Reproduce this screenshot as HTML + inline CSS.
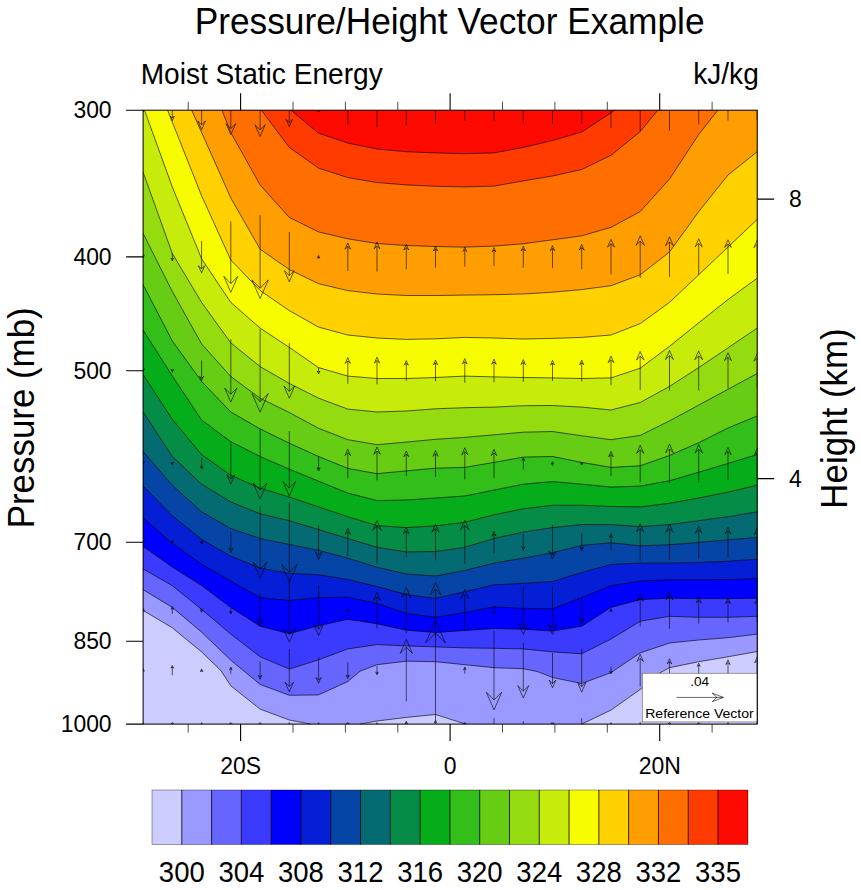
<!DOCTYPE html>
<html><head><meta charset="utf-8"><title>Pressure/Height Vector Example</title>
<style>html,body{margin:0;padding:0;background:#fff}svg{display:block}</style></head>
<body>
<svg width="861" height="890" viewBox="0 0 861 890" font-family='"Liberation Sans", Arial, Helvetica, sans-serif' fill="#000">
<rect width="861" height="890" fill="#fff"/>
<g id="contours" shape-rendering="geometricPrecision">
<rect x="143.1" y="110.2" width="614.1" height="613.9" fill="#FF0A00"/>
<path d="M290.9 110.2L318.6 133.2L347.8 143.0L377.0 149.0L406.3 151.7L435.5 152.9L464.8 153.7L494.0 152.9L523.3 147.4L552.5 140.5L581.7 132.0L611.0 112.8L614.7 110.2L757.2 110.2L757.2 724.1L143.1 724.1L143.1 110.2Z" fill="#FF3B00"/>
<path d="M261.4 110.2L289.3 147.4L318.6 168.1L347.8 177.6L377.0 182.5L406.3 184.9L435.5 186.3L464.8 186.9L494.0 186.1L523.3 180.9L552.5 176.0L581.7 169.5L611.0 155.3L640.2 131.6L657.8 110.2L757.2 110.2L757.2 724.1L143.1 724.1L143.1 110.2Z" fill="#FF6E00"/>
<path d="M221.9 110.2L230.8 132.6L260.1 184.9L289.3 217.4L318.6 231.9L347.8 238.8L377.0 243.5L406.3 245.5L435.5 246.5L464.8 247.1L494.0 246.1L523.3 243.7L552.5 239.8L581.7 235.8L611.0 227.3L640.2 211.6L669.5 179.0L698.7 134.5L717.8 110.2L757.2 110.2L757.2 724.1L143.1 724.1L143.1 110.2Z" fill="#FF9E00"/>
<path d="M191.7 110.2L201.6 132.4L230.8 198.0L260.1 249.2L289.3 269.5L318.6 283.7L347.8 290.6L377.0 294.0L406.3 295.5L435.5 295.5L464.8 295.1L494.0 294.7L523.3 294.0L552.5 292.2L581.7 289.6L611.0 285.7L640.2 274.8L669.5 252.0L698.7 211.6L728.0 175.0L757.2 151.7L757.2 724.1L143.1 724.1L143.1 110.2Z" fill="#FFD100"/>
<path d="M167.6 110.2L172.3 122.1L201.6 195.8L230.8 260.0L260.1 290.5L289.3 310.6L318.6 327.1L347.8 335.0L377.0 338.0L406.3 339.4L435.5 338.8L464.8 337.4L494.0 338.0L523.3 339.0L552.5 338.4L581.7 337.4L611.0 335.0L640.2 323.6L669.5 302.4L698.7 274.8L728.0 247.1L757.2 219.4L757.2 724.1L143.1 724.1L143.1 110.2Z" fill="#F8FC00"/>
<path d="M144.5 110.2L172.3 186.9L201.6 258.8L230.8 302.4L260.1 328.1L289.3 347.4L318.6 367.6L347.8 376.1L377.0 378.5L406.3 378.5L435.5 377.5L464.8 376.1L494.0 376.9L523.3 377.5L552.5 377.9L581.7 378.5L611.0 377.9L640.2 368.2L669.5 346.3L698.7 322.8L728.0 299.5L757.2 278.2L757.2 724.1L143.1 724.1L143.1 110.2Z" fill="#C7EB0A"/>
<path d="M143.1 172.1L172.3 253.5L201.6 302.4L230.8 342.9L260.1 366.6L289.3 383.4L318.6 398.2L347.8 409.1L377.0 412.0L406.3 411.0L435.5 408.8L464.8 407.7L494.0 407.1L523.3 405.7L552.5 405.5L581.7 407.1L611.0 410.0L640.2 402.5L669.5 386.4L698.7 367.6L728.0 347.9L757.2 328.1L757.2 724.1L143.1 724.1Z" fill="#94DB0F"/>
<path d="M143.1 233.3L172.3 291.5L201.6 343.9L230.8 376.5L260.1 398.2L289.3 412.5L318.6 428.3L347.8 439.7L377.0 444.7L406.3 442.1L435.5 439.3L464.8 437.4L494.0 434.8L523.3 432.2L552.5 431.5L581.7 435.8L611.0 439.7L640.2 435.4L669.5 420.9L698.7 405.1L728.0 389.3L757.2 373.5L757.2 724.1L143.1 724.1Z" fill="#66CC14"/>
<path d="M143.1 284.7L172.3 341.0L201.6 381.4L230.8 412.0L260.1 428.9L289.3 443.2L318.6 456.5L347.8 468.4L377.0 473.7L406.3 470.9L435.5 468.2L464.8 467.4L494.0 462.4L523.3 457.1L552.5 456.5L581.7 462.4L611.0 467.4L640.2 465.8L669.5 455.5L698.7 442.7L728.0 428.0L757.2 416.0L757.2 724.1L143.1 724.1Z" fill="#33BF1A"/>
<path d="M143.1 330.1L172.3 376.0L201.6 420.0L230.8 441.7L260.1 456.5L289.3 469.2L318.6 481.2L347.8 493.1L377.0 500.6L406.3 500.0L435.5 498.0L464.8 496.0L494.0 490.1L523.3 484.2L552.5 481.6L581.7 484.2L611.0 487.1L640.2 486.1L669.5 480.8L698.7 472.3L728.0 463.4L757.2 454.6L757.2 724.1L143.1 724.1Z" fill="#05AD1A"/>
<path d="M143.1 374.5L172.3 419.3L201.6 454.6L230.8 475.3L260.1 488.1L289.3 497.0L318.6 506.9L347.8 516.7L377.0 525.6L406.3 527.6L435.5 525.9L464.8 522.3L494.0 514.8L523.3 508.8L552.5 505.3L581.7 505.3L611.0 506.5L640.2 506.9L669.5 503.3L698.7 498.0L728.0 492.1L757.2 485.2L757.2 724.1L143.1 724.1Z" fill="#058C47"/>
<path d="M143.1 412.0L172.3 456.5L201.6 484.2L230.8 501.9L260.1 513.8L289.3 520.7L318.6 529.6L347.8 538.5L377.0 547.3L406.3 551.9L435.5 551.6L464.8 547.3L494.0 538.5L523.3 532.1L552.5 527.6L581.7 524.6L611.0 524.6L640.2 526.6L669.5 524.6L698.7 520.7L728.0 516.7L757.2 511.8L757.2 724.1L143.1 724.1Z" fill="#056B73"/>
<path d="M143.1 451.6L172.3 485.2L201.6 511.8L230.8 528.6L260.1 538.5L289.3 544.4L318.6 550.3L347.8 558.2L377.0 567.2L406.3 574.0L435.5 576.0L464.8 570.4L494.0 563.1L523.3 558.2L552.5 552.7L581.7 545.4L611.0 542.8L640.2 545.8L669.5 544.8L698.7 542.4L728.0 539.8L757.2 537.5L757.2 724.1L143.1 724.1Z" fill="#0545A6"/>
<path d="M143.1 486.1L172.3 515.8L201.6 539.4L230.8 556.2L260.1 568.0L289.3 573.4L318.6 574.7L347.8 579.5L377.0 586.5L406.3 594.6L435.5 598.4L464.8 591.7L494.0 584.8L523.3 583.4L552.5 581.5L581.7 572.5L611.0 564.5L640.2 563.1L669.5 563.1L698.7 562.5L728.0 561.2L757.2 559.2L757.2 724.1L143.1 724.1Z" fill="#051FD6"/>
<path d="M143.1 517.7L172.3 543.4L201.6 564.1L230.8 581.0L260.1 597.6L289.3 600.5L318.6 597.6L347.8 597.2L377.0 603.5L406.3 613.4L435.5 617.3L464.8 612.4L494.0 606.9L523.3 608.4L552.5 608.8L581.7 597.6L611.0 585.7L640.2 581.0L669.5 579.8L698.7 579.8L728.0 579.6L757.2 578.6L757.2 724.1L143.1 724.1Z" fill="#0000FF"/>
<path d="M143.1 546.4L172.3 567.1L201.6 585.5L230.8 607.4L260.1 626.2L289.3 633.7L318.6 625.8L347.8 619.3L377.0 623.8L406.3 630.2L435.5 632.5L464.8 630.5L494.0 628.6L523.3 629.2L552.5 631.1L581.7 626.2L611.0 607.4L640.2 599.6L669.5 598.2L698.7 598.6L728.0 598.6L757.2 598.2L757.2 724.1L143.1 724.1Z" fill="#3B3BFF"/>
<path d="M143.1 569.0L172.3 585.7L201.6 609.4L230.8 634.1L260.1 656.8L289.3 669.1L318.6 659.8L347.8 648.9L377.0 644.6L406.3 645.9L435.5 646.9L464.8 647.9L494.0 648.3L523.3 648.9L552.5 651.9L581.7 653.8L611.0 639.0L640.2 621.3L669.5 616.3L698.7 617.3L728.0 617.3L757.2 616.3L757.2 724.1L143.1 724.1Z" fill="#6666FF"/>
<path d="M143.1 589.7L172.3 607.4L201.6 632.1L230.8 660.2L260.1 684.4L289.3 695.3L318.6 694.9L347.8 681.5L360.0 671.2L377.0 664.7L406.3 661.2L435.5 661.7L464.8 664.7L494.0 667.7L523.3 668.7L537.6 671.6L552.5 677.5L581.7 683.5L611.0 672.6L640.2 652.9L669.5 643.0L698.7 640.0L728.0 637.7L757.2 634.1L757.2 724.1L143.1 724.1Z" fill="#9999FF"/>
<path d="M143.1 610.4L172.3 627.8L201.6 651.9L220.9 670.6L230.8 685.8L260.1 709.1L289.3 720.0L310.6 724.1L143.1 724.1Z" fill="#CCCCFF"/>
<path d="M360.0 724.1L377.0 721.0L406.3 717.4L435.5 714.5L465.5 724.1Z" fill="#CCCCFF"/>
<path d="M581.7 724.1L611.0 710.1L640.2 689.4L660.0 672.8L669.5 667.7L698.7 661.7L728.0 656.8L757.2 651.5L757.2 724.1Z" fill="#CCCCFF"/>
<path d="M290.9 110.2L318.6 133.2L347.8 143.0L377.0 149.0L406.3 151.7L435.5 152.9L464.8 153.7L494.0 152.9L523.3 147.4L552.5 140.5L581.7 132.0L611.0 112.8L614.7 110.2M261.4 110.2L289.3 147.4L318.6 168.1L347.8 177.6L377.0 182.5L406.3 184.9L435.5 186.3L464.8 186.9L494.0 186.1L523.3 180.9L552.5 176.0L581.7 169.5L611.0 155.3L640.2 131.6L657.8 110.2M221.9 110.2L230.8 132.6L260.1 184.9L289.3 217.4L318.6 231.9L347.8 238.8L377.0 243.5L406.3 245.5L435.5 246.5L464.8 247.1L494.0 246.1L523.3 243.7L552.5 239.8L581.7 235.8L611.0 227.3L640.2 211.6L669.5 179.0L698.7 134.5L717.8 110.2M191.7 110.2L201.6 132.4L230.8 198.0L260.1 249.2L289.3 269.5L318.6 283.7L347.8 290.6L377.0 294.0L406.3 295.5L435.5 295.5L464.8 295.1L494.0 294.7L523.3 294.0L552.5 292.2L581.7 289.6L611.0 285.7L640.2 274.8L669.5 252.0L698.7 211.6L728.0 175.0L757.2 151.7M167.6 110.2L172.3 122.1L201.6 195.8L230.8 260.0L260.1 290.5L289.3 310.6L318.6 327.1L347.8 335.0L377.0 338.0L406.3 339.4L435.5 338.8L464.8 337.4L494.0 338.0L523.3 339.0L552.5 338.4L581.7 337.4L611.0 335.0L640.2 323.6L669.5 302.4L698.7 274.8L728.0 247.1L757.2 219.4M144.5 110.2L172.3 186.9L201.6 258.8L230.8 302.4L260.1 328.1L289.3 347.4L318.6 367.6L347.8 376.1L377.0 378.5L406.3 378.5L435.5 377.5L464.8 376.1L494.0 376.9L523.3 377.5L552.5 377.9L581.7 378.5L611.0 377.9L640.2 368.2L669.5 346.3L698.7 322.8L728.0 299.5L757.2 278.2M143.1 172.1L172.3 253.5L201.6 302.4L230.8 342.9L260.1 366.6L289.3 383.4L318.6 398.2L347.8 409.1L377.0 412.0L406.3 411.0L435.5 408.8L464.8 407.7L494.0 407.1L523.3 405.7L552.5 405.5L581.7 407.1L611.0 410.0L640.2 402.5L669.5 386.4L698.7 367.6L728.0 347.9L757.2 328.1M143.1 233.3L172.3 291.5L201.6 343.9L230.8 376.5L260.1 398.2L289.3 412.5L318.6 428.3L347.8 439.7L377.0 444.7L406.3 442.1L435.5 439.3L464.8 437.4L494.0 434.8L523.3 432.2L552.5 431.5L581.7 435.8L611.0 439.7L640.2 435.4L669.5 420.9L698.7 405.1L728.0 389.3L757.2 373.5M143.1 284.7L172.3 341.0L201.6 381.4L230.8 412.0L260.1 428.9L289.3 443.2L318.6 456.5L347.8 468.4L377.0 473.7L406.3 470.9L435.5 468.2L464.8 467.4L494.0 462.4L523.3 457.1L552.5 456.5L581.7 462.4L611.0 467.4L640.2 465.8L669.5 455.5L698.7 442.7L728.0 428.0L757.2 416.0M143.1 330.1L172.3 376.0L201.6 420.0L230.8 441.7L260.1 456.5L289.3 469.2L318.6 481.2L347.8 493.1L377.0 500.6L406.3 500.0L435.5 498.0L464.8 496.0L494.0 490.1L523.3 484.2L552.5 481.6L581.7 484.2L611.0 487.1L640.2 486.1L669.5 480.8L698.7 472.3L728.0 463.4L757.2 454.6M143.1 374.5L172.3 419.3L201.6 454.6L230.8 475.3L260.1 488.1L289.3 497.0L318.6 506.9L347.8 516.7L377.0 525.6L406.3 527.6L435.5 525.9L464.8 522.3L494.0 514.8L523.3 508.8L552.5 505.3L581.7 505.3L611.0 506.5L640.2 506.9L669.5 503.3L698.7 498.0L728.0 492.1L757.2 485.2M143.1 412.0L172.3 456.5L201.6 484.2L230.8 501.9L260.1 513.8L289.3 520.7L318.6 529.6L347.8 538.5L377.0 547.3L406.3 551.9L435.5 551.6L464.8 547.3L494.0 538.5L523.3 532.1L552.5 527.6L581.7 524.6L611.0 524.6L640.2 526.6L669.5 524.6L698.7 520.7L728.0 516.7L757.2 511.8M143.1 451.6L172.3 485.2L201.6 511.8L230.8 528.6L260.1 538.5L289.3 544.4L318.6 550.3L347.8 558.2L377.0 567.2L406.3 574.0L435.5 576.0L464.8 570.4L494.0 563.1L523.3 558.2L552.5 552.7L581.7 545.4L611.0 542.8L640.2 545.8L669.5 544.8L698.7 542.4L728.0 539.8L757.2 537.5M143.1 486.1L172.3 515.8L201.6 539.4L230.8 556.2L260.1 568.0L289.3 573.4L318.6 574.7L347.8 579.5L377.0 586.5L406.3 594.6L435.5 598.4L464.8 591.7L494.0 584.8L523.3 583.4L552.5 581.5L581.7 572.5L611.0 564.5L640.2 563.1L669.5 563.1L698.7 562.5L728.0 561.2L757.2 559.2M143.1 517.7L172.3 543.4L201.6 564.1L230.8 581.0L260.1 597.6L289.3 600.5L318.6 597.6L347.8 597.2L377.0 603.5L406.3 613.4L435.5 617.3L464.8 612.4L494.0 606.9L523.3 608.4L552.5 608.8L581.7 597.6L611.0 585.7L640.2 581.0L669.5 579.8L698.7 579.8L728.0 579.6L757.2 578.6M143.1 546.4L172.3 567.1L201.6 585.5L230.8 607.4L260.1 626.2L289.3 633.7L318.6 625.8L347.8 619.3L377.0 623.8L406.3 630.2L435.5 632.5L464.8 630.5L494.0 628.6L523.3 629.2L552.5 631.1L581.7 626.2L611.0 607.4L640.2 599.6L669.5 598.2L698.7 598.6L728.0 598.6L757.2 598.2M143.1 569.0L172.3 585.7L201.6 609.4L230.8 634.1L260.1 656.8L289.3 669.1L318.6 659.8L347.8 648.9L377.0 644.6L406.3 645.9L435.5 646.9L464.8 647.9L494.0 648.3L523.3 648.9L552.5 651.9L581.7 653.8L611.0 639.0L640.2 621.3L669.5 616.3L698.7 617.3L728.0 617.3L757.2 616.3M143.1 589.7L172.3 607.4L201.6 632.1L230.8 660.2L260.1 684.4L289.3 695.3L318.6 694.9L347.8 681.5L360.0 671.2L377.0 664.7L406.3 661.2L435.5 661.7L464.8 664.7L494.0 667.7L523.3 668.7L537.6 671.6L552.5 677.5L581.7 683.5L611.0 672.6L640.2 652.9L669.5 643.0L698.7 640.0L728.0 637.7L757.2 634.1M143.1 610.4L172.3 627.8L201.6 651.9L220.9 670.6L230.8 685.8L260.1 709.1L289.3 720.0L310.6 724.1M360.0 724.1L377.0 721.0L406.3 717.4L435.5 714.5L465.5 724.1M581.7 724.1L611.0 710.1L640.2 689.4L660.0 672.8L669.5 667.7L698.7 661.7L728.0 656.8L757.2 651.5" fill="none" stroke="#000" stroke-width="0.62" stroke-linejoin="round"/>
</g>
<defs><clipPath id="pc"><rect x="143.1" y="110.2" width="614.1" height="613.9"/></clipPath></defs><path clip-path="url(#pc)" d="M143.1 108.2V110.6M143.1 110.6L141.8 109.4L143.1 112.2L144.4 109.4ZM172.3 99.7V118.1M172.3 118.1L170.3 116.0L172.3 120.7L174.4 116.0ZM201.6 90.7V124.8M201.6 124.8L197.8 120.9L201.6 129.7L205.4 120.9ZM230.8 85.7V128.5M230.8 128.5L226.0 123.7L230.8 134.7L235.6 123.7ZM260.1 83.9V129.9M260.1 129.9L254.9 124.7L260.1 136.5L265.2 124.7ZM289.3 93.7V122.5M289.3 122.5L286.1 119.3L289.3 126.7L292.5 119.3ZM318.6 111.7V110.3M318.6 110.3L317.3 111.5L318.6 108.7L319.9 111.5ZM347.8 124.7V99.4M347.8 99.4L345.0 102.2L347.8 95.7L350.6 102.2ZM377.0 127.2V97.5M377.0 97.5L373.7 100.9L377.0 93.2L380.4 100.9ZM406.3 125.7V98.6M406.3 98.6L403.2 101.7L406.3 94.7L409.3 101.7ZM435.5 123.7V100.1M435.5 100.1L432.9 102.8L435.5 96.7L438.2 102.8ZM464.8 120.7V102.3M464.8 102.3L462.7 104.4L464.8 99.7L466.8 104.4ZM494.0 120.7V102.3M494.0 102.3L492.0 104.4L494.0 99.7L496.1 104.4ZM523.3 122.7V100.9M523.3 100.9L520.8 103.3L523.3 97.7L525.7 103.3ZM552.5 124.2V99.7M552.5 99.7L549.8 102.5L552.5 96.2L555.2 102.5ZM581.7 124.2V99.7M581.7 99.7L579.0 102.5L581.7 96.2L584.5 102.5ZM611.0 127.7V97.1M611.0 97.1L607.6 100.6L611.0 92.7L614.4 100.6ZM640.2 131.7V94.1M640.2 94.1L636.0 98.4L640.2 88.7L644.4 98.4ZM669.5 130.7V94.9M669.5 94.9L665.5 98.9L669.5 89.7L673.5 98.9ZM698.7 124.2V99.7M698.7 99.7L696.0 102.5L698.7 96.2L701.5 102.5ZM728.0 120.7V102.3M728.0 102.3L725.9 104.4L728.0 99.7L730.0 104.4ZM757.2 120.2V102.7M757.2 102.7L755.2 104.7L757.2 100.2L759.2 104.7ZM143.1 255.9V256.3M143.1 256.3L141.8 255.1L143.1 257.9L144.4 255.1ZM172.3 252.9V259.3M172.3 259.3L171.0 258.1L172.3 260.9L173.6 258.1ZM201.6 240.9V268.9M201.6 268.9L198.4 265.7L201.6 272.9L204.7 265.7ZM230.8 221.4V283.5M230.8 283.5L223.9 276.4L230.8 292.4L237.8 276.4ZM260.1 215.1V288.1M260.1 288.1L251.9 279.9L260.1 298.6L268.3 279.9ZM289.3 231.9V275.6M289.3 275.6L284.4 270.6L289.3 281.9L294.2 270.6ZM318.6 258.4V257.0M318.6 257.0L317.3 258.2L318.6 255.4L319.9 258.2ZM347.8 270.9V246.4M347.8 246.4L345.1 249.2L347.8 242.9L350.5 249.2ZM377.0 271.6V245.9M377.0 245.9L374.2 248.8L377.0 242.1L379.9 248.8ZM406.3 269.4V247.5M406.3 247.5L403.8 250.0L406.3 244.4L408.7 250.0ZM435.5 267.7V248.8M435.5 248.8L433.4 251.0L435.5 246.1L437.6 251.0ZM464.8 266.7V249.6M464.8 249.6L462.9 251.5L464.8 247.1L466.7 251.5ZM494.0 266.1V250.0M494.0 250.0L492.2 251.8L494.0 247.7L495.8 251.8ZM523.3 267.7V248.8M523.3 248.8L521.1 251.0L523.3 246.1L525.4 251.0ZM552.5 268.1V248.5M552.5 248.5L550.3 250.7L552.5 245.7L554.7 250.7ZM581.7 269.3V247.6M581.7 247.6L579.3 250.1L581.7 244.5L584.2 250.1ZM611.0 274.6V243.7M611.0 243.7L607.5 247.2L611.0 239.2L614.5 247.2ZM640.2 278.0V241.1M640.2 241.1L636.1 245.3L640.2 235.8L644.4 245.3ZM669.5 277.0V241.9M669.5 241.9L665.5 245.8L669.5 236.8L673.4 245.8ZM698.7 275.0V243.4M698.7 243.4L695.2 246.9L698.7 238.8L702.3 246.9ZM728.0 274.0V244.1M728.0 244.1L724.6 247.5L728.0 239.8L731.3 247.5ZM757.2 273.6V244.4M757.2 244.4L753.9 247.7L757.2 240.2L760.5 247.7ZM143.1 369.7V370.1M143.1 370.1L141.8 368.9L143.1 371.7L144.4 368.9ZM172.3 369.2V370.6M172.3 370.6L171.0 369.4L172.3 372.2L173.6 369.4ZM201.6 360.4V378.4M201.6 378.4L199.6 376.3L201.6 380.9L203.6 376.3ZM230.8 339.3V394.2M230.8 394.2L224.7 388.0L230.8 402.1L237.0 388.0ZM260.1 329.2V401.7M260.1 401.7L251.9 393.5L260.1 412.2L268.2 393.5ZM289.3 343.1V391.4M289.3 391.4L283.9 385.9L289.3 398.3L294.7 385.9ZM318.6 367.4V372.4M318.6 372.4L317.3 371.1L318.6 373.9L319.9 371.1ZM347.8 383.8V360.9M347.8 360.9L345.2 363.5L347.8 357.6L350.4 363.5ZM377.0 384.3V360.5M377.0 360.5L374.4 363.2L377.0 357.1L379.7 363.2ZM406.3 380.8V363.2M406.3 363.2L404.3 365.2L406.3 360.6L408.3 365.2ZM435.5 381.2V362.8M435.5 362.8L433.5 364.9L435.5 360.1L437.6 364.9ZM464.8 382.8V361.7M464.8 361.7L462.4 364.1L464.8 358.6L467.1 364.1ZM494.0 382.3V362.0M494.0 362.0L491.7 364.3L494.0 359.1L496.3 364.3ZM523.3 381.8V362.4M523.3 362.4L521.1 364.6L523.3 359.6L525.4 364.6ZM552.5 380.9V363.0M552.5 363.0L550.5 365.1L552.5 360.4L554.5 365.1ZM581.7 381.3V362.7M581.7 362.7L579.7 364.8L581.7 360.1L583.8 364.8ZM611.0 385.3V359.8M611.0 359.8L608.1 362.7L611.0 356.1L613.8 362.7ZM640.2 389.9V356.3M640.2 356.3L636.5 360.1L640.2 351.4L644.0 360.1ZM669.5 390.9V355.6M669.5 355.6L665.5 359.6L669.5 350.4L673.4 359.6ZM698.7 390.4V355.9M698.7 355.9L694.8 359.8L698.7 350.9L702.6 359.8ZM728.0 388.6V357.3M728.0 357.3L724.4 360.8L728.0 352.8L731.5 360.8ZM757.2 387.7V358.0M757.2 358.0L753.9 361.3L757.2 353.7L760.5 361.3ZM143.1 462.6V463.0M143.1 463.0L141.8 461.8L143.1 464.6L144.4 461.8ZM172.3 462.1V463.5M172.3 463.5L171.0 462.3L172.3 465.1L173.6 462.3ZM201.6 458.2V467.5M201.6 467.5L200.3 466.2L201.6 469.1L202.9 466.2ZM230.8 443.2V478.9M230.8 478.9L226.8 474.8L230.8 484.1L234.8 474.8ZM260.1 428.2V490.0M260.1 490.0L253.1 483.0L260.1 499.0L267.0 483.0ZM289.3 431.1V487.9M289.3 487.9L282.9 481.5L289.3 496.1L295.7 481.5ZM318.6 456.2V469.1M318.6 469.1L317.1 467.7L318.6 471.0L320.0 467.7ZM347.8 478.1V452.8M347.8 452.8L345.0 455.6L347.8 449.1L350.6 455.6ZM377.0 480.4V451.1M377.0 451.1L373.8 454.4L377.0 446.9L380.3 454.4ZM406.3 476.2V454.2M406.3 454.2L403.8 456.7L406.3 451.1L408.7 456.7ZM435.5 476.8V453.8M435.5 453.8L433.0 456.4L435.5 450.5L438.1 456.4ZM464.8 479.4V451.8M464.8 451.8L461.7 454.9L464.8 447.8L467.9 454.9ZM494.0 477.9V452.9M494.0 452.9L491.2 455.7L494.0 449.3L496.8 455.7ZM523.3 469.6V459.2M523.3 459.2L522.0 460.5L523.3 457.7L524.6 460.5ZM552.5 461.6V464.0M552.5 464.0L551.2 462.8L552.5 465.6L553.8 462.8ZM581.7 462.1V463.5M581.7 463.5L580.4 462.3L581.7 465.1L583.0 462.3ZM611.0 475.8V454.5M611.0 454.5L608.6 456.9L611.0 451.5L613.4 456.9ZM640.2 482.1V449.8M640.2 449.8L636.6 453.5L640.2 445.2L643.8 453.5ZM669.5 483.2V449.0M669.5 449.0L665.6 452.8L669.5 444.1L673.3 452.8ZM698.7 482.7V449.4M698.7 449.4L695.0 453.1L698.7 444.6L702.5 453.1ZM728.0 479.7V451.6M728.0 451.6L724.8 454.7L728.0 447.5L731.1 454.7ZM757.2 478.6V452.4M757.2 452.4L754.3 455.4L757.2 448.6L760.1 455.4ZM143.1 541.2V541.6M143.1 541.6L141.8 540.4L143.1 543.2L144.4 540.4ZM172.3 540.7V542.1M172.3 542.1L171.0 540.9L172.3 543.7L173.6 540.9ZM201.6 540.2V542.6M201.6 542.6L200.3 541.4L201.6 544.2L202.9 541.4ZM230.8 531.9V549.9M230.8 549.9L228.8 547.9L230.8 552.5L232.8 547.9ZM260.1 506.2V569.1M260.1 569.1L253.0 562.0L260.1 578.2L267.1 562.0ZM289.3 502.2V572.1M289.3 572.1L281.5 564.2L289.3 582.2L297.2 564.2ZM318.6 524.9V555.1M318.6 555.1L315.2 551.7L318.6 559.5L321.9 551.7ZM347.8 556.2V531.7M347.8 531.7L345.1 534.5L347.8 528.2L350.5 534.5ZM377.0 563.9V526.0M377.0 526.0L372.8 530.3L377.0 520.5L381.3 530.3ZM406.3 557.2V531.0M406.3 531.0L403.3 534.0L406.3 527.2L409.2 534.0ZM435.5 560.4V528.6M435.5 528.6L432.0 532.2L435.5 524.0L439.1 532.2ZM464.8 564.3V525.7M464.8 525.7L460.4 530.0L464.8 520.1L469.1 530.0ZM494.0 553.1V534.1M494.0 534.1L491.9 536.2L494.0 531.4L496.1 536.2ZM523.3 534.1V548.3M523.3 548.3L521.7 546.7L523.3 550.3L524.8 546.7ZM552.5 525.4V554.8M552.5 554.8L549.2 551.4L552.5 559.0L555.8 551.4ZM581.7 533.3V548.9M581.7 548.9L580.0 547.1L581.7 551.1L583.5 547.1ZM611.0 550.8V535.8M611.0 535.8L609.3 537.5L611.0 533.6L612.7 537.5ZM640.2 560.7V528.4M640.2 528.4L636.6 532.0L640.2 523.7L643.9 532.0ZM669.5 560.2V528.7M669.5 528.7L665.9 532.3L669.5 524.2L673.0 532.3ZM698.7 558.5V530.0M698.7 530.0L695.5 533.2L698.7 525.9L701.9 533.2ZM728.0 557.2V531.0M728.0 531.0L725.0 534.0L728.0 527.2L730.9 534.0ZM757.2 556.2V531.7M757.2 531.7L754.5 534.5L757.2 528.2L759.9 534.5ZM143.1 612.3V609.9M143.1 609.9L141.8 611.1L143.1 608.3L144.4 611.1ZM172.3 614.0V608.1M172.3 608.1L171.0 609.3L172.3 606.5L173.6 609.3ZM201.6 608.3V610.7M201.6 610.7L200.3 609.5L201.6 612.3L202.9 609.5ZM230.8 606.5V612.5M230.8 612.5L229.5 611.2L230.8 614.0L232.1 611.2ZM260.1 594.3V622.3M260.1 622.3L256.9 619.1L260.1 626.3L263.2 619.1ZM289.3 578.3V634.2M289.3 634.2L283.0 627.9L289.3 642.3L295.6 627.9ZM318.6 585.1V629.1M318.6 629.1L313.6 624.2L318.6 635.5L323.5 624.2ZM347.8 611.8V610.4M347.8 610.4L346.5 611.6L347.8 608.8L349.1 611.6ZM377.0 628.3V596.8M377.0 596.8L373.5 600.4L377.0 592.3L380.6 600.4ZM406.3 633.3V593.1M406.3 593.1L401.8 597.6L406.3 587.3L410.8 597.6ZM435.5 638.0V589.6M435.5 589.6L430.1 595.1L435.5 582.6L441.0 595.1ZM464.8 631.3V594.6M464.8 594.6L460.7 598.8L464.8 589.3L468.9 598.8ZM494.0 606.3V612.7M494.0 612.7L492.7 611.5L494.0 614.3L495.3 611.5ZM523.3 586.2V628.3M523.3 628.3L518.5 623.6L523.3 634.4L528.0 623.6ZM552.5 586.2V628.3M552.5 628.3L547.8 623.6L552.5 634.4L557.2 623.6ZM581.7 596.5V620.6M581.7 620.6L579.0 617.9L581.7 624.1L584.4 617.9ZM611.0 611.8V610.4M611.0 610.4L609.7 611.6L611.0 608.8L612.3 611.6ZM640.2 626.6V598.1M640.2 598.1L637.0 601.3L640.2 594.0L643.4 601.3ZM669.5 628.8V596.5M669.5 596.5L665.8 600.1L669.5 591.8L673.1 600.1ZM698.7 623.6V600.4M698.7 600.4L696.1 603.0L698.7 597.0L701.3 603.0ZM728.0 622.6V601.1M728.0 601.1L725.5 603.5L728.0 598.0L730.4 603.5ZM757.2 622.3V601.3M757.2 601.3L754.9 603.7L757.2 598.3L759.6 603.7ZM143.1 672.4V670.0M143.1 670.0L141.8 671.2L143.1 668.4L144.4 671.2ZM172.3 675.4V667.0M172.3 667.0L171.0 668.2L172.3 665.4L173.6 668.2ZM201.6 671.9V670.5M201.6 670.5L200.3 671.7L201.6 668.9L202.9 671.7ZM230.8 673.8V668.6M230.8 668.6L229.5 669.8L230.8 667.0L232.1 669.8ZM260.1 661.5V677.1M260.1 677.1L258.3 675.3L260.1 679.3L261.8 675.3ZM289.3 649.0V686.4M289.3 686.4L285.1 682.2L289.3 691.8L293.5 682.2ZM318.6 657.5V680.0M318.6 680.0L316.0 677.5L318.6 683.2L321.1 677.5ZM347.8 662.2V676.5M347.8 676.5L346.2 674.9L347.8 678.6L349.4 674.9ZM377.0 665.9V673.3M377.0 673.3L375.7 672.1L377.0 674.9L378.3 672.1ZM406.3 701.4V647.2M406.3 647.2L400.2 653.4L406.3 639.4L412.4 653.4ZM435.5 720.4V633.0M435.5 633.0L425.7 642.9L435.5 620.4L445.3 642.9ZM464.8 673.8V668.6M464.8 668.6L463.5 669.8L464.8 667.0L466.1 669.8ZM494.0 630.9V699.9M494.0 699.9L486.3 692.1L494.0 709.9L501.8 692.1ZM523.3 642.8V691.1M523.3 691.1L517.8 685.6L523.3 698.0L528.7 685.6ZM552.5 652.9V683.5M552.5 683.5L549.1 680.0L552.5 687.9L555.9 680.0ZM581.7 648.7V686.6M581.7 686.6L577.5 682.3L581.7 692.1L586.0 682.3ZM611.0 666.8V672.5M611.0 672.5L609.7 671.2L611.0 674.0L612.3 671.2ZM640.2 686.5V658.4M640.2 658.4L637.1 661.5L640.2 654.3L643.4 661.5ZM669.5 682.0V661.7M669.5 661.7L667.2 664.0L669.5 658.8L671.7 664.0ZM698.7 677.7V664.9M698.7 664.9L697.3 666.4L698.7 663.1L700.1 666.4ZM728.0 681.0V662.5M728.0 662.5L725.9 664.6L728.0 659.8L730.0 664.6ZM757.2 683.9V660.3M757.2 660.3L754.6 663.0L757.2 656.9L759.8 663.0ZM143.1 725.6V724.2M143.1 724.2L141.8 725.4L143.1 722.6L144.4 725.4ZM172.3 722.1V724.5M172.3 724.5L171.0 723.3L172.3 726.1L173.6 723.3ZM201.6 725.6V724.2M201.6 724.2L200.3 725.4L201.6 722.6L202.9 725.4ZM230.8 722.1V724.5M230.8 724.5L229.5 723.3L230.8 726.1L232.1 723.3ZM260.1 722.1V724.5M260.1 724.5L258.8 723.3L260.1 726.1L261.4 723.3ZM289.3 725.6V724.2M289.3 724.2L288.0 725.4L289.3 722.6L290.6 725.4ZM318.6 725.6V724.2M318.6 724.2L317.3 725.4L318.6 722.6L319.9 725.4ZM347.8 722.1V724.5M347.8 724.5L346.5 723.3L347.8 726.1L349.1 723.3ZM377.0 725.6V724.2M377.0 724.2L375.7 725.4L377.0 722.6L378.3 725.4ZM406.3 727.1V722.7M406.3 722.7L405.0 723.9L406.3 721.1L407.6 723.9ZM435.5 728.1V721.7M435.5 721.7L434.2 722.9L435.5 720.1L436.8 722.9ZM464.8 722.1V724.5M464.8 724.5L463.5 723.3L464.8 726.1L466.1 723.3ZM494.0 718.1V728.5M494.0 728.5L492.7 727.3L494.0 730.1L495.3 727.3ZM523.3 721.1V725.5M523.3 725.5L522.0 724.3L523.3 727.1L524.6 724.3ZM552.5 722.6V724.0M552.5 724.0L551.2 722.8L552.5 725.6L553.8 722.8ZM581.7 718.1V728.5M581.7 728.5L580.4 727.3L581.7 730.1L583.0 727.3ZM611.0 725.6V724.2M611.0 724.2L609.7 725.4L611.0 722.6L612.3 725.4ZM640.2 725.6V724.2M640.2 724.2L638.9 725.4L640.2 722.6L641.5 725.4ZM669.5 722.1V724.5M669.5 724.5L668.2 723.3L669.5 726.1L670.8 723.3ZM698.7 722.1V724.5M698.7 724.5L697.4 723.3L698.7 726.1L700.0 723.3ZM728.0 725.6V724.2M728.0 724.2L726.7 725.4L728.0 722.6L729.3 725.4ZM757.2 725.6V724.2M757.2 724.2L755.9 725.4L757.2 722.6L758.5 725.4Z" fill="none" stroke="#000" stroke-width="0.6" stroke-linejoin="miter"/>
<g id="refvec"><rect x="642.3" y="673.2" width="114.9" height="48.7" fill="#fff" stroke="#444" stroke-width="0.5"/><text x="699.7" y="686.4" font-size="13.6" text-anchor="middle">.04</text><path d="M676.5 697.4H723.3M716.8 697.4L712.3 693.1L723.3 697.4L712.3 701.7Z" fill="none" stroke="#000" stroke-width="0.6"/><text x="645.2" y="718.1" font-size="13.6" textLength="108.6" lengthAdjust="spacingAndGlyphs">Reference Vector</text></g>
<rect x="143.1" y="110.2" width="614.1" height="613.9" fill="none" stroke="#000" stroke-width="1"/>
<path d="M126.1 110.2H143.1M126.1 256.9H143.1M126.1 370.7H143.1M126.1 542.2H143.1M126.1 641.2H143.1M126.1 724.1H143.1M240.6 93.2V110.2M240.6 724.1V741.1M450.1 93.2V110.2M450.1 724.1V741.1M659.7 93.2V110.2M659.7 724.1V741.1M757.2 199.1H774.2M757.2 478.6H774.2" stroke="#000" stroke-width="1.1" fill="none"/>
<path d="M188.2 101.7V110.2M188.2 724.1V732.6M293.0 101.7V110.2M293.0 724.1V732.6M345.4 101.7V110.2M345.4 724.1V732.6M397.8 101.7V110.2M397.8 724.1V732.6M502.5 101.7V110.2M502.5 724.1V732.6M554.9 101.7V110.2M554.9 724.1V732.6M607.3 101.7V110.2M607.3 724.1V732.6M712.1 101.7V110.2M712.1 724.1V732.6" stroke="#000" stroke-width="0.7" fill="none"/>
<g font-size="22.9" text-anchor="end">
<text transform="translate(111.6,118.4) scale(1,1.03)">300</text>
<text transform="translate(111.6,265.1) scale(1,1.03)">400</text>
<text transform="translate(111.6,378.9) scale(1,1.03)">500</text>
<text transform="translate(111.6,550.4) scale(1,1.03)">700</text>
<text transform="translate(111.6,649.4) scale(1,1.03)">850</text>
<text transform="translate(111.6,732.3) scale(1,1.03)">1000</text>
</g>
<g font-size="23" text-anchor="middle">
<text transform="translate(240.6,774.3) scale(1,1.03)">20S</text>
<text transform="translate(450.1,774.3) scale(1,1.03)">0</text>
<text transform="translate(659.7,774.3) scale(1,1.03)">20N</text>
</g>
<g font-size="22.9"><text transform="translate(789,207.4) scale(1,1.03)">8</text><text transform="translate(789,486.9) scale(1,1.03)">4</text></g>
<text transform="translate(449.6,33.5) scale(1,1.035)" font-size="35.3" text-anchor="middle">Pressure/Height Vector Example</text>
<text transform="translate(140.7,83.5) scale(1,1.03)" font-size="28.1">Moist Static Energy</text>
<text transform="translate(758.8,83.5) scale(1,1.03)" font-size="28.1" text-anchor="end">kJ/kg</text>
<text transform="translate(34.2,417.8) rotate(-90) scale(1,1.035)" font-size="34.9" text-anchor="middle">Pressure (mb)</text>
<text transform="translate(846.5,418.5) rotate(-90) scale(1,1.035)" font-size="34.9" text-anchor="middle">Height (km)</text>
<rect x="152.00" y="790.0" width="30.09" height="54.5" fill="#CCCCFF"/>
<rect x="181.79" y="790.0" width="30.09" height="54.5" fill="#9999FF"/>
<rect x="211.58" y="790.0" width="30.09" height="54.5" fill="#6666FF"/>
<rect x="241.37" y="790.0" width="30.09" height="54.5" fill="#3B3BFF"/>
<rect x="271.16" y="790.0" width="30.09" height="54.5" fill="#0000FF"/>
<rect x="300.95" y="790.0" width="30.09" height="54.5" fill="#051FD6"/>
<rect x="330.74" y="790.0" width="30.09" height="54.5" fill="#0545A6"/>
<rect x="360.53" y="790.0" width="30.09" height="54.5" fill="#056B73"/>
<rect x="390.32" y="790.0" width="30.09" height="54.5" fill="#058C47"/>
<rect x="420.11" y="790.0" width="30.09" height="54.5" fill="#05AD1A"/>
<rect x="449.90" y="790.0" width="30.09" height="54.5" fill="#33BF1A"/>
<rect x="479.69" y="790.0" width="30.09" height="54.5" fill="#66CC14"/>
<rect x="509.48" y="790.0" width="30.09" height="54.5" fill="#94DB0F"/>
<rect x="539.27" y="790.0" width="30.09" height="54.5" fill="#C7EB0A"/>
<rect x="569.06" y="790.0" width="30.09" height="54.5" fill="#F8FC00"/>
<rect x="598.85" y="790.0" width="30.09" height="54.5" fill="#FFD100"/>
<rect x="628.64" y="790.0" width="30.09" height="54.5" fill="#FF9E00"/>
<rect x="658.43" y="790.0" width="30.09" height="54.5" fill="#FF6E00"/>
<rect x="688.22" y="790.0" width="30.09" height="54.5" fill="#FF3B00"/>
<rect x="718.01" y="790.0" width="30.09" height="54.5" fill="#FF0A00"/>
<path d="M181.79 790.0V844.5M211.58 790.0V844.5M241.37 790.0V844.5M271.16 790.0V844.5M300.95 790.0V844.5M330.74 790.0V844.5M360.53 790.0V844.5M390.32 790.0V844.5M420.11 790.0V844.5M449.90 790.0V844.5M479.69 790.0V844.5M509.48 790.0V844.5M539.27 790.0V844.5M569.06 790.0V844.5M598.85 790.0V844.5M628.64 790.0V844.5M658.43 790.0V844.5M688.22 790.0V844.5M718.01 790.0V844.5" stroke="#000" stroke-width="0.8" fill="none"/>
<rect x="152.0" y="790.0" width="595.8" height="54.5" fill="none" stroke="#000" stroke-width="0.6" stroke-opacity="0.6"/>
<g font-size="27.5" text-anchor="middle">
<text transform="translate(181.8,881.6) scale(1,1.06)">300</text>
<text transform="translate(241.4,881.6) scale(1,1.06)">304</text>
<text transform="translate(300.9,881.6) scale(1,1.06)">308</text>
<text transform="translate(360.5,881.6) scale(1,1.06)">312</text>
<text transform="translate(420.1,881.6) scale(1,1.06)">316</text>
<text transform="translate(479.7,881.6) scale(1,1.06)">320</text>
<text transform="translate(539.3,881.6) scale(1,1.06)">324</text>
<text transform="translate(598.8,881.6) scale(1,1.06)">328</text>
<text transform="translate(658.4,881.6) scale(1,1.06)">332</text>
<text transform="translate(718.0,881.6) scale(1,1.06)">335</text>
</g>
</svg>
</body></html>
